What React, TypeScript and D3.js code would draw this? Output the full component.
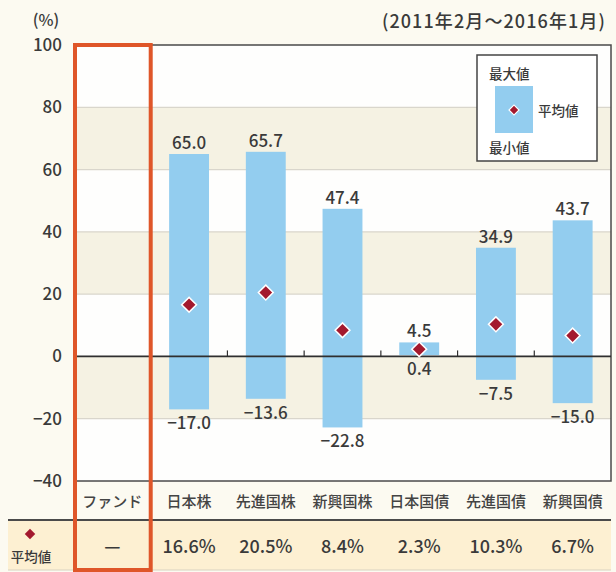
import React from 'react';
import * as d3 from 'd3';

const categories = ['ファンド', '日本株', '先進国株', '新興国株', '日本国債', '先進国債', '新興国債'];
const assetCats = ['日本株', '先進国株', '新興国株', '日本国債', '先進国債', '新興国債'];
const maxValues = [65.0, 65.7, 47.4, 4.5, 34.9, 43.7];
const minValues = [-17.0, -13.6, -22.8, 0.4, -7.5, -15.0];
const meanValues = [16.6, 20.5, 8.4, 2.3, 10.3, 6.7];
const meanLabels = ['—', '16.6%', '20.5%', '8.4%', '2.3%', '10.3%', '6.7%'];
const yTicks = [100, 80, 60, 40, 20, 0, -20, -40];

const W = 616;
const H = 572;
const L = 74;
const R = 611;
const T = 45;
const B = 481;
const FONT = '"Noto Sans CJK JP", "Noto Sans", sans-serif';
const BLUE = '#93cdef';
const RED = '#a3192e';
const ORANGE = '#df5629';
const TXT = '#3a3a3a';

export default function App() {
  const x = d3.scaleBand<string>().domain(categories).range([L, R]);
  const y = d3.scaleLinear().domain([-40, 100]).range([B, T]);
  const fmt = d3.format('.1f');
  const bw = x.bandwidth() * 0.52;
  const diamond = d3.symbol().type(d3.symbolSquare).size(110)()!;
  const smallDiamond = d3.symbol().type(d3.symbolSquare).size(50)()!;
  const bandPairs = d3.pairs(yTicks);

  return (
    <svg width={W} height={H} style={{ position: 'absolute', left: 0, top: 0, fontFamily: FONT }} fontWeight={500}>
      <rect x={0} y={0} width={W} height={H} fill="#fcfaf1" />
      {/* bands */}
      {bandPairs.map(([a, b], i) => (
        <rect key={'b' + i} x={L} y={y(a)} width={R - L} height={y(b) - y(a)} fill={i % 2 === 1 ? '#f5f2e3' : '#fefefd'} />
      ))}
      {/* gridlines */}
      {yTicks.filter((t) => t !== 0 && t !== 100 && t !== -40).map((t) => (
        <line key={'g' + t} x1={L} x2={R} y1={y(t)} y2={y(t)} stroke="#d9d6cc" strokeWidth={1.2} />
      ))}
      {/* frame */}
      <rect x={L} y={T} width={R - L} height={B - T} fill="none" stroke="#4a4a4a" strokeWidth={1.5} />
      {/* bars */}
      {assetCats.map((c, i) => (
        <rect key={'bar' + c} x={x(c)! + (x.bandwidth() - bw) / 2} y={y(maxValues[i])} width={bw}
          height={y(minValues[i]) - y(maxValues[i])} fill={BLUE} />
      ))}
      {/* zero line and ticks */}
      <line x1={L} x2={R} y1={y(0)} y2={y(0)} stroke="#2f2f2f" strokeWidth={1.8} />
      {categories.slice(1).map((c) => (
        <line key={'tk' + c} x1={x(c)!} x2={x(c)!} y1={y(0)} y2={y(0) - 6} stroke="#2f2f2f" strokeWidth={1.2} />
      ))}
      {/* diamonds */}
      {assetCats.map((c, i) => (
        <path key={'d' + c} d={diamond} transform={`translate(${x(c)! + x.bandwidth() / 2},${y(meanValues[i])}) rotate(45)`}
          fill={RED} stroke="#ffffff" strokeWidth={1.5} />
      ))}
      {/* value labels */}
      {assetCats.map((c, i) => (
        <g key={'l' + c} fontSize={17} fill={TXT} textAnchor="middle">
          <text x={x(c)! + x.bandwidth() / 2} y={y(maxValues[i]) - 5}>{fmt(maxValues[i])}</text>
          <text x={x(c)! + x.bandwidth() / 2} y={y(minValues[i]) + 20}>{fmt(minValues[i])}</text>
        </g>
      ))}
      {/* y axis labels */}
      {yTicks.map((t) => (
        <text key={'y' + t} x={62} y={y(t) + 6} textAnchor="end" fontSize={17} fill={TXT}>{fmt(t).replace('.0', '')}</text>
      ))}
      <text x={46} y={26} textAnchor="middle" fontSize={16} fill={TXT}>(%)</text>
      <text x={606} y={28} textAnchor="end" fontSize={18} letterSpacing={1.1} fill={TXT}>(2011年2月～2016年1月)</text>
      {/* legend */}
      <rect x={477} y={55} width={120} height={106} fill="#ffffff" stroke="#444" strokeWidth={1.5} />
      <text x={489} y={79} fontSize={13.5} fill={TXT}>最大値</text>
      <rect x={495} y={86} width={38} height={47} fill={BLUE} />
      <path d={smallDiamond} transform="translate(514,110) rotate(45)" fill={RED} stroke="#fff" strokeWidth={1.2} />
      <text x={538} y={116} fontSize={13.5} fill={TXT}>平均値</text>
      <text x={489} y={153} fontSize={13.5} fill={TXT}>最小値</text>
      {/* category labels */}
      {categories.map((c) => (
        <text key={'c' + c} x={x(c)! + x.bandwidth() / 2} y={507} textAnchor="middle" fontSize={15} fill="#444">{c}</text>
      ))}
      {/* table row */}
      <rect x={8} y={520} width={R - 8} height={50} fill="#fdf0d2" />
      <line x1={8} x2={R} y1={520} y2={520} stroke="#4a4a4a" strokeWidth={2} />
      <line x1={8} x2={R} y1={570} y2={570} stroke="#d8d2c0" strokeWidth={1} />
      <path d={smallDiamond} transform="translate(30,534) rotate(45) scale(1.05)" fill={RED} />
      <text x={31} y={562} textAnchor="middle" fontSize={13.5} fill={TXT}>平均値</text>
      {meanLabels.map((m, i) => (
        <text key={'m' + i} x={x(categories[i])! + x.bandwidth() / 2} y={553} textAnchor="middle" fontSize={18} fill={TXT}>{m}</text>
      ))}
      {/* fund highlight */}
      <rect x={x('ファンド')! + 1} y={T} width={x.bandwidth() - 1} height={570 - T} fill="none" stroke={ORANGE} strokeWidth={4} />
    </svg>
  );
}
